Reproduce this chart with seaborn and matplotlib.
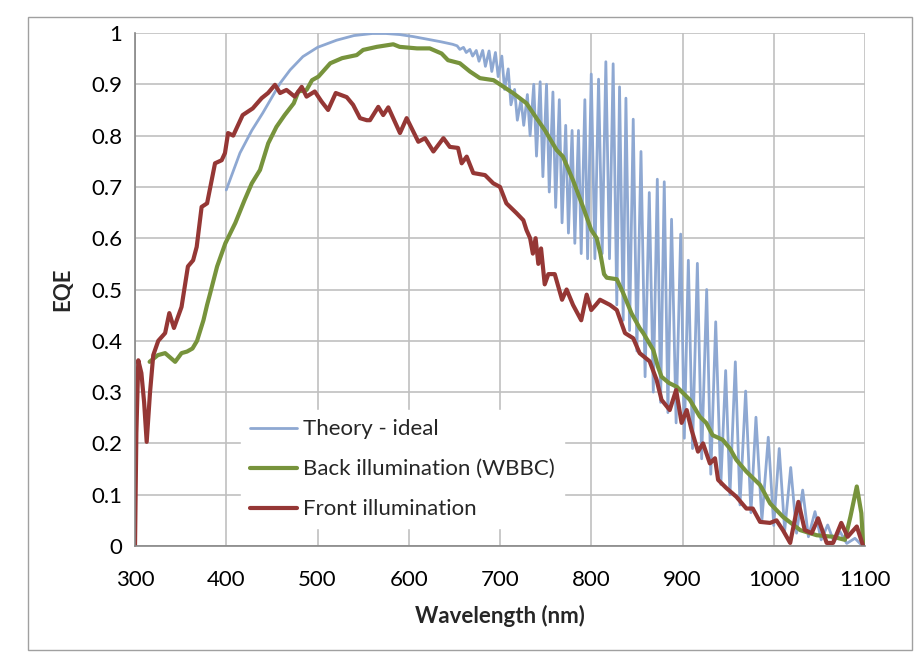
import matplotlib
matplotlib.use("Agg")
import matplotlib.pyplot as plt
import matplotlib.patches as patches
import pandas as pd
import seaborn as sns

# Theory - ideal: smooth part below the fringes
theory_wl = [400, 415, 428, 440, 459, 470, 484, 500, 521, 540, 560, 575, 590, 605, 620, 635, 648]
theory_eqe = [0.694, 0.766, 0.81, 0.844, 0.902, 0.928, 0.954, 0.972, 0.986, 0.995, 0.999, 0.999,
              0.997, 0.993, 0.988, 0.983, 0.978]
# fringe peaks and troughs of the theory curve
peak_wl = [653, 660, 667, 674, 681, 688, 695, 702, 709, 716, 723, 730, 737, 744, 751, 758, 765,
           772, 779, 786, 793, 800, 808, 816, 824, 831, 838, 846, 854.5, 863.6, 872.4, 880, 888,
           898, 906.4, 916.3, 926.5, 936.4, 947.3, 957.9, 969.2, 980.5, 994, 1006, 1018.6,
           1031.7, 1045.2, 1059.1, 1072.6, 1089]
peak_eqe = [0.975, 0.972, 0.968, 0.966, 0.966, 0.965, 0.962, 0.955, 0.93, 0.89, 0.87, 0.88, 0.90,
            0.905, 0.90, 0.885, 0.87, 0.82, 0.81, 0.81, 0.87, 0.92, 0.91, 0.944, 0.94, 0.895,
            0.873, 0.832, 0.769, 0.689, 0.715, 0.71, 0.637, 0.608, 0.557, 0.551, 0.50, 0.437,
            0.342, 0.359, 0.302, 0.251, 0.212, 0.19, 0.153, 0.109, 0.067, 0.041, 0.028, 0.015]
trough_wl = [656, 663, 670, 677, 684, 691, 698, 705, 712, 719, 726, 733, 740, 747, 754, 761, 768,
             775, 782, 789, 796, 804, 812, 820, 828, 835, 842, 850, 859, 868, 876, 884, 893, 902,
             911, 921, 931, 942, 952, 963, 975, 987, 1000, 1012, 1025, 1038, 1052, 1066, 1080,
             1095, 1100]
trough_eqe = [0.968, 0.962, 0.955, 0.945, 0.935, 0.925, 0.915, 0.89, 0.86, 0.83, 0.82, 0.80, 0.76,
              0.72, 0.69, 0.66, 0.63, 0.61, 0.59, 0.57, 0.56, 0.56, 0.57, 0.56, 0.47, 0.44, 0.42,
              0.38, 0.33, 0.30, 0.28, 0.26, 0.24, 0.21, 0.19, 0.17, 0.14, 0.12, 0.10, 0.08, 0.065,
              0.05, 0.04, 0.03, 0.025, 0.018, 0.012, 0.008, 0.005, 0.004, 0.004]

# Back illumination (WBBC)
back_wl = [316, 325, 333, 344, 351, 357, 363, 368, 375, 379, 382, 390, 399, 410, 420, 428, 437,
           446, 455, 464, 474, 479, 488, 494, 501, 514, 527, 543, 550, 565, 583, 590, 609, 623,
           636, 643, 656, 667, 678, 693, 704, 715, 729, 740, 749, 762, 769, 780, 791, 800, 806,
           810, 814, 817, 828, 835, 844, 853, 857, 868, 873, 877, 885, 894, 908, 919, 926, 933,
           944, 952, 959, 970, 985, 996, 1010, 1029, 1047, 1065, 1078, 1084, 1091, 1096, 1098]
back_eqe = [0.359, 0.372, 0.376, 0.359, 0.376, 0.379, 0.385, 0.40, 0.44, 0.47, 0.49, 0.545, 0.59,
            0.63, 0.674, 0.707, 0.733, 0.785, 0.817, 0.84, 0.863, 0.886, 0.889, 0.908, 0.915,
            0.941, 0.951, 0.957, 0.967, 0.973, 0.978, 0.973, 0.970, 0.97, 0.96, 0.947, 0.941,
            0.925, 0.912, 0.908, 0.895, 0.882, 0.863, 0.834, 0.811, 0.772, 0.759, 0.713, 0.661,
            0.616, 0.60, 0.57, 0.53, 0.523, 0.52, 0.493, 0.454, 0.425, 0.415, 0.382, 0.35, 0.33,
            0.318, 0.31, 0.285, 0.252, 0.24, 0.216, 0.207, 0.19, 0.168, 0.145, 0.119, 0.083,
            0.057, 0.031, 0.021, 0.018, 0.012, 0.057, 0.116, 0.064, 0.0]

# Front illumination
front_wl = [300, 301.5, 303.6, 307, 310, 312.8, 316.4, 320, 325.5, 333, 337.6, 342.7, 351, 358,
            363.7, 367.6, 373, 379, 387.7, 395, 398.6, 402, 407.6, 418, 429, 438.8, 445.8, 453.4,
            459, 466, 475, 482.7, 488, 497, 504.6, 511.6, 520, 532, 539, 546.6, 554, 557.5, 566.6,
            572, 577.6, 590.4, 597.7, 610.5, 617.8, 627, 638, 645, 654, 658, 663.5, 670.7, 683.6,
            692.6, 700, 707, 718, 725.6, 729, 733, 736, 739, 742, 745, 749, 753, 760, 768, 773,
            780, 789, 795, 800, 805, 809.6, 820.5, 828, 837, 846, 853, 864, 871.6, 877, 886, 893,
            899, 904.6, 910, 917, 922.5, 930, 935.6, 939, 948, 959, 970, 977, 985, 996, 1003,
            1010, 1018, 1027, 1034, 1041.6, 1048.6, 1058, 1065, 1074, 1081, 1091, 1098]
front_eqe = [0.0, 0.22, 0.362, 0.337, 0.28, 0.203, 0.298, 0.372, 0.40, 0.415, 0.454, 0.425, 0.466,
             0.545, 0.557, 0.583, 0.661, 0.668, 0.746, 0.752, 0.766, 0.805, 0.80, 0.84, 0.853,
             0.873, 0.883, 0.899, 0.883, 0.889, 0.876, 0.895, 0.876, 0.886, 0.866, 0.85, 0.883,
             0.875, 0.86, 0.834, 0.83, 0.83, 0.856, 0.84, 0.855, 0.805, 0.834, 0.788, 0.795,
             0.769, 0.795, 0.778, 0.776, 0.746, 0.759, 0.727, 0.723, 0.707, 0.70, 0.668, 0.649,
             0.635, 0.616, 0.60, 0.57, 0.60, 0.55, 0.58, 0.51, 0.53, 0.53, 0.48, 0.50, 0.47,
             0.44, 0.49, 0.46, 0.47, 0.48, 0.47, 0.46, 0.415, 0.405, 0.376, 0.36, 0.324, 0.285,
             0.265, 0.304, 0.24, 0.265, 0.226, 0.184, 0.2, 0.161, 0.171, 0.129, 0.113, 0.096,
             0.073, 0.073, 0.047, 0.045, 0.05, 0.031, 0.006, 0.086, 0.031, 0.025, 0.054, 0.006,
             0.006, 0.045, 0.018, 0.038, 0.0]

x_ticks = [300, 400, 500, 600, 700, 800, 900, 1000, 1100]
y_ticks = [0, 0.1, 0.2, 0.3, 0.4, 0.5, 0.6, 0.7, 0.8, 0.9, 1]
y_labels = ["0", "0.1", "0.2", "0.3", "0.4", "0.5", "0.6", "0.7", "0.8", "0.9", "1"]

theory = pd.DataFrame({"wl": theory_wl + peak_wl + trough_wl,
                       "eqe": theory_eqe + peak_eqe + trough_eqe}).sort_values("wl")
back = pd.DataFrame({"wl": back_wl, "eqe": back_eqe})
front = pd.DataFrame({"wl": front_wl, "eqe": front_eqe})

sns.set_theme(style="whitegrid")
plt.rcParams["font.family"] = ["Lato", "DejaVu Sans"]

fig = plt.figure(figsize=(9.16, 6.54), dpi=100)
ax = fig.add_axes([135 / 916, 1 - 546 / 654, 730 / 916, 513 / 654])

sns.lineplot(data=theory, x="wl", y="eqe", ax=ax, color="#8EA8D2", linewidth=2.0,
             estimator=None, sort=False, label="Theory - ideal")
sns.lineplot(data=back, x="wl", y="eqe", ax=ax, color="#77933C", linewidth=3.0,
             estimator=None, sort=False, label="Back illumination (WBBC)")
sns.lineplot(data=front, x="wl", y="eqe", ax=ax, color="#953735", linewidth=3.0,
             estimator=None, sort=False, label="Front illumination")

ax.set_xlim(300, 1100)
ax.set_ylim(0, 1)
ax.set_xticks(x_ticks)
ax.set_yticks(y_ticks)
ax.set_yticklabels(y_labels)
ax.grid(True, color="#C0C0C0", linewidth=1.2)
ax.set_facecolor("white")
for s in ["top", "right"]:
    ax.spines[s].set_visible(False)
for s in ["left", "bottom"]:
    ax.spines[s].set_visible(True)
    ax.spines[s].set_color("#868686")
    ax.spines[s].set_linewidth(1.2)
ax.tick_params(axis="both", which="major", direction="out", length=5, width=1,
               color="#868686", labelsize=16, labelcolor="black", pad=4)
ax.tick_params(axis="x", pad=12)

ax.set_xlabel("Wavelength (nm)", fontsize=16, fontweight="bold", labelpad=11)
ax.set_ylabel("EQE", fontsize=16, fontweight="bold", labelpad=13)

leg = ax.legend(loc="lower left", bbox_to_anchor=(0.13, 0.013), frameon=True, fontsize=16,
                handlelength=2.1, handletextpad=0.3, labelspacing=0.9, borderpad=0.4)
leg.get_frame().set_facecolor("white")
leg.get_frame().set_edgecolor("white")
leg.get_frame().set_alpha(1)

# chart-area border
fig.patches.append(patches.Rectangle((28 / 916, 4 / 654), 884 / 916, 633 / 654,
                                     transform=fig.transFigure, fill=False,
                                     edgecolor="#A0A0A0", linewidth=1.0))

fig.savefig("out.png", dpi=100)
